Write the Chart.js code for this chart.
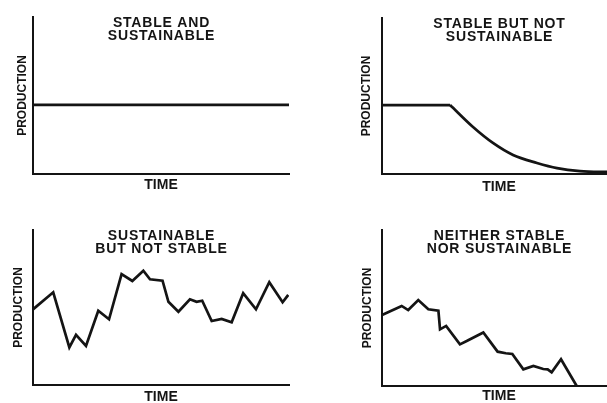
<!DOCTYPE html>
<html>
<head>
<meta charset="utf-8">
<script src="https://cdn.jsdelivr.net/npm/chart.js@4"></script>
<style>
  html, body { margin: 0; padding: 0; background: #fff; overflow: hidden; width: 607px; height: 403px; }
  canvas { position: absolute; }
</style>
</head>
<body>
<canvas id="p1" width="300" height="210" style="left:0;top:0"></canvas>
<canvas id="p2" width="330" height="210" style="left:300px;top:0"></canvas>
<canvas id="p3" width="300" height="215" style="left:0;top:200px"></canvas>
<canvas id="p4" width="330" height="215" style="left:300px;top:200px"></canvas>
<script>
// ---- data (time and production in relative units 0-100) ----
const TITLE_1 = ["STABLE AND", "SUSTAINABLE"];
const TITLE_2 = ["STABLE BUT NOT", "SUSTAINABLE"];
const TITLE_3 = ["SUSTAINABLE", "BUT NOT STABLE"];
const TITLE_4 = ["NEITHER STABLE", "NOR SUSTAINABLE"];
const X_LABEL = "TIME";
const Y_LABEL = "PRODUCTION";

// panel 1: flat line
const TIME_STABLE = [0, 100];
const PROD_STABLE = [44, 44];

// panel 2: plateau then decline
const TIME_PLATEAU = [0, 29.1];
const PROD_PLATEAU = [44.2, 44.2];
const TIME_DECLINE = [29.1, 38.9, 47.4, 56.0, 66.2, 74.8, 84.6, 96.2, 100];
const PROD_DECLINE = [44.2, 30.1, 19.9, 12.2, 7.1, 3.8, 1.9, 1.3, 1.2];

// panel 3: fluctuating around a level
const TIME_VAR = [0, 7.9, 14.2, 16.8, 20.7, 25.5, 29.7, 34.6, 38.8, 43.1, 45.7, 50.6, 52.9, 56.8, 61.3, 63.9, 66.1, 69.8, 73.7, 77.6, 82.1, 87.1, 92.3, 97.5, 99.7];
const PROD_VAR = [48.8, 59.8, 24.3, 32.3, 25.2, 47.9, 42.4, 71.6, 67.1, 73.7, 68.2, 67.3, 53.7, 47.3, 55.3, 53.7, 54.4, 41.3, 42.6, 40.5, 59.2, 48.8, 66.3, 53.4, 58.1];

// panel 4: fluctuating and falling
const TIME_FALL = [0, 8.4, 11.2, 15.5, 19.8, 24.1, 24.8, 27.4, 33.3, 36.2, 43.3, 49.4, 52.9, 55.7, 60.4, 64.7, 68.9, 70.8, 72.5, 76.5, 83.2];
const PROD_FALL = [45.5, 51.3, 48.7, 55.1, 49.2, 48.3, 36.3, 38.5, 26.7, 28.8, 34.3, 22.0, 21.0, 20.5, 10.7, 12.8, 10.9, 10.7, 8.8, 17.1, 0];

const INK = "#141414";
const FONT = '"Liberation Sans", Arial, Helvetica, sans-serif';

function pts(xs, ys) {
  return xs.map((x, i) => ({ x, y: ys[i] }));
}

function line(xs, ys, extra) {
  return Object.assign({
    data: pts(xs, ys),
    borderColor: INK,
    borderWidth: 2.7,
    pointRadius: 0,
    tension: 0,
    borderJoinStyle: "miter",
    fill: false
  }, extra || {});
}

// title drawn inside the plot area, under the top of the y axis
const panelTitle = {
  id: "panelTitle",
  afterDraw(chart, args, opts) {
    const { ctx, chartArea } = chart;
    ctx.save();
    ctx.font = "bold 14px " + FONT;
    ctx.letterSpacing = "0.8px";
    ctx.fillStyle = INK;
    ctx.textAlign = "center";
    ctx.textBaseline = "middle";
    const cx = (chartArea.left + chartArea.right) / 2 + 0.5;
    opts.lines.forEach((t, i) => ctx.fillText(t, cx, chartArea.top + 6.5 + i * 13));
    ctx.restore();
  }
};

// g: canvas box and wanted plot area, in page pixels
function panel(id, g, title, datasets) {
  const yTitleH = 14.4 + 2 + g.yGap;
  const xTitleH = 16.8 + g.xGap;
  const axis = { display: true, color: INK, width: 2 };
  new Chart(document.getElementById(id), {
    type: "line",
    data: { datasets },
    options: {
      responsive: false,
      animation: false,
      layout: {
        padding: {
          left: g.l - g.cx - yTitleH,
          top: g.t - g.cy,
          right: g.cx + g.cw - g.r,
          bottom: g.cy + g.ch - g.b - xTitleH
        }
      },
      plugins: { legend: { display: false }, tooltip: { enabled: false }, panelTitle: { lines: title } },
      scales: {
        x: {
          type: "linear", min: 0, max: 100,
          grid: { display: false, drawTicks: false },
          border: axis,
          ticks: { display: false },
          title: { display: true, text: X_LABEL, color: INK, font: { family: FONT, size: 14, weight: "bold" }, padding: { top: g.xGap, bottom: 0 } }
        },
        y: {
          type: "linear", min: 0, max: 100,
          grid: { display: false, drawTicks: false },
          border: axis,
          ticks: { display: false },
          title: { display: true, text: Y_LABEL, color: INK, font: { family: FONT, size: 12, weight: "bold" }, padding: { top: 2, bottom: g.yGap } }
        }
      }
    },
    plugins: [panelTitle]
  });
}

panel("p1", { cx: 0, cy: 0, cw: 300, ch: 210, l: 33, t: 17, r: 289, b: 174, yGap: 3.3, xGap: 2.6 },
  TITLE_1, [line(TIME_STABLE, PROD_STABLE)]);

panel("p2", { cx: 300, cy: 0, cw: 330, ch: 210, l: 382, t: 18, r: 616, b: 174, yGap: 7.8, xGap: 4.3 },
  TITLE_2, [line(TIME_PLATEAU, PROD_PLATEAU), line(TIME_DECLINE, PROD_DECLINE, { cubicInterpolationMode: "monotone" })]);

panel("p3", { cx: 0, cy: 200, cw: 300, ch: 215, l: 33, t: 230, r: 289, b: 385, yGap: 6.9, xGap: 3.6 },
  TITLE_3, [line(TIME_VAR, PROD_VAR)]);

panel("p4", { cx: 300, cy: 200, cw: 330, ch: 215, l: 382, t: 230, r: 616, b: 386, yGap: 7.3, xGap: 1.6 },
  TITLE_4, [line(TIME_FALL, PROD_FALL)]);
</script>
</body>
</html>
